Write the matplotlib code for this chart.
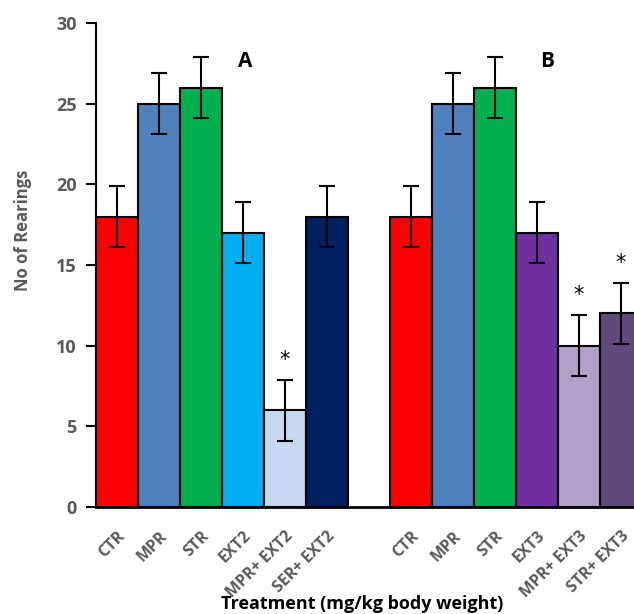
import numpy as np
import matplotlib.pyplot as plt

labels = ['CTR', 'MPR', 'STR', 'EXT2', 'MPR+ EXT2', 'SER+ EXT2',
          'CTR', 'MPR', 'STR', 'EXT3', 'MPR+ EXT3', 'STR+ EXT3']
values = [18, 25, 26, 17, 6, 18, 18, 25, 26, 17, 10, 12]
errors = [1.9, 1.9, 1.9, 1.9, 1.9, 1.9, 1.9, 1.9, 1.9, 1.9, 1.9, 1.9]
colors = ['#FF0000', '#4F81BD', '#00B050', '#00B0F0', '#C6D9F1', '#002060',
          '#FF0000', '#4F81BD', '#00B050', '#7030A0', '#B1A0C7', '#604A7B']
signif = [False, False, False, False, True, False,
          False, False, False, False, True, True]

# group A at 0..5, gap, group B at 7..12
pos = np.array(list(range(6)) + list(range(7, 13)))

plt.rcParams['font.family'] = ['Open Sans', 'DejaVu Sans']
gray = '#595959'

fig = plt.figure(figsize=(6.34, 6.14), dpi=100)
ax = fig.add_axes([96 / 634, 107 / 614, 546 / 634, 484 / 614])

ax.bar(pos, values, width=1.0, color=colors, edgecolor='black', linewidth=1.5)
ax.errorbar(pos, values, yerr=errors, fmt='none', ecolor='black',
            elinewidth=1.5, capsize=6, capthick=1.5)

for p, v, e, s in zip(pos, values, errors, signif):
    if s:
        ax.text(p, v + e + 0.6, '*', ha='center', va='bottom', fontsize=15,
                family='DejaVu Sans')

ax.text(3.05, 27.6, 'A', ha='center', va='center', fontsize=15, fontweight='bold')
ax.text(10.25, 27.6, 'B', ha='center', va='center', fontsize=15, fontweight='bold')

ax.set_xlim(-0.5, 12.5)
ax.set_ylim(0, 30)
ax.set_yticks([0, 5, 10, 15, 20, 25, 30])
ax.set_xticks(pos)
ax.set_xticklabels(labels, rotation=45, ha='right', rotation_mode='anchor',
                   fontsize=11.5, fontweight='bold', color=gray)
ax.tick_params(axis='x', length=0, pad=15)
ax.tick_params(axis='y', direction='out', length=7, width=1.5, labelsize=13,
               labelcolor=gray, pad=7)
for t in ax.get_yticklabels():
    t.set_fontweight('bold')

ax.spines['top'].set_visible(False)
ax.spines['right'].set_visible(False)
ax.spines['left'].set_linewidth(1.5)
ax.spines['bottom'].set_linewidth(2)

ax.set_ylabel('No of Rearings', fontsize=12, fontweight='bold', color=gray)
ax.yaxis.set_label_coords(-0.117, 0.572)
fig.text(0.571, 0.002, 'Treatment (mg/kg body weight)', ha='center', va='bottom',
         fontsize=13, fontweight='bold')

fig.savefig('out.png', dpi=100)
